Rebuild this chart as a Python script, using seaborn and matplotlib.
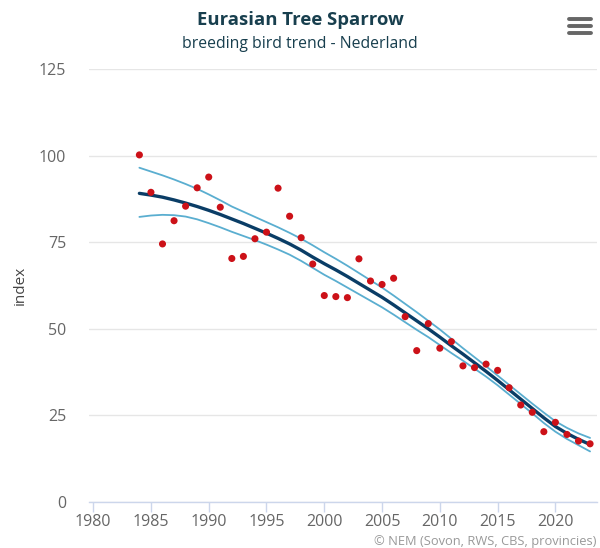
import matplotlib
matplotlib.use("Agg")
from matplotlib import pyplot as plt
from matplotlib.lines import Line2D
import pandas as pd
import seaborn as sns

years = list(range(1984, 2024))

index_values = [100.2, 89.4, 74.5, 81.2, 85.4, 90.7, 93.8, 85.1, 70.3, 70.9,
                76.0, 77.9, 90.6, 82.5, 76.3, 68.7, 59.6, 59.3, 59.0, 70.2,
                63.8, 62.8, 64.6, 53.5, 43.7, 51.5, 44.4, 46.3, 39.3, 38.8,
                39.8, 38.0, 33.0, 28.0, 25.9, 20.3, 23.0, 19.5, 17.6, 16.8]

trend = [89.1, 88.6, 88.0, 87.2, 86.3, 85.3, 84.2, 83.0, 81.7, 80.4,
         79.0, 77.6, 76.1, 74.5, 72.7, 70.7, 68.8, 67.0, 65.1, 63.1,
         61.1, 59.1, 56.9, 54.6, 52.3, 50.0, 47.6, 45.1, 42.7, 40.2,
         37.7, 35.1, 32.4, 29.7, 27.0, 24.3, 21.8, 19.8, 18.1, 16.6]

upper = [96.5, 95.4, 94.3, 93.1, 91.8, 90.4, 88.8, 87.1, 85.3, 83.8,
         82.3, 80.8, 79.3, 77.7, 76.0, 74.1, 72.1, 70.2, 68.2, 66.1,
         64.0, 61.9, 59.6, 57.2, 54.8, 52.3, 49.8, 47.1, 44.4, 41.8,
         39.2, 36.5, 33.8, 31.1, 28.4, 25.8, 23.3, 21.4, 19.8, 18.5]

lower = [82.3, 82.7, 82.9, 82.8, 82.4, 81.6, 80.5, 79.3, 78.0, 76.8,
         75.6, 74.3, 72.9, 71.4, 69.6, 67.6, 65.6, 63.8, 61.9, 60.0,
         58.1, 56.2, 54.1, 51.9, 49.7, 47.6, 45.3, 43.0, 40.8, 38.5,
         36.2, 33.7, 31.0, 28.3, 25.6, 22.8, 20.3, 18.2, 16.4, 14.6]

x_ticks = [1980, 1985, 1990, 1995, 2000, 2005, 2010, 2015, 2020]
y_ticks = [0, 25, 50, 75, 100, 125]

df = pd.DataFrame({"year": years, "index": index_values, "trend": trend,
                   "upper": upper, "lower": lower})

sns.set_theme(style="white")
plt.rcParams["font.family"] = ["Open Sans", "DejaVu Sans"]

fig = plt.figure(figsize=(6, 5.48), dpi=100)
ax = fig.add_axes([89 / 600, 46 / 548, 508 / 600, 433 / 548])

sns.lineplot(data=df, x="year", y="upper", ax=ax, color="#5aaed0",
             linewidth=1.3, zorder=3)
sns.lineplot(data=df, x="year", y="lower", ax=ax, color="#5aaed0",
             linewidth=1.3, zorder=3)
sns.lineplot(data=df, x="year", y="trend", ax=ax, color="#0a3d66",
             linewidth=2.4, zorder=4)
sns.scatterplot(data=df, x="year", y="index", ax=ax, color="#cc1118",
                s=26, edgecolor="none", zorder=5)

ax.set_xlim(1979.64, 2023.6)
ax.set_ylim(0, 125)
ax.set_xticks(x_ticks)
ax.set_yticks(y_ticks)
ax.grid(axis="y", color="#e6e6e6", linewidth=1, zorder=0)
ax.grid(axis="x", visible=False)

for side in ["top", "right", "left"]:
    ax.spines[side].set_visible(False)
ax.spines["bottom"].set_color("#ccd6eb")
ax.spines["bottom"].set_linewidth(1)
ax.spines["bottom"].set_zorder(6)

ax.tick_params(axis="x", length=7, width=1, color="#ccd6eb", pad=2,
               labelsize=11.5, labelcolor="#666666", bottom=True)
ax.tick_params(axis="y", length=0, pad=16.5, labelsize=11.5,
               labelcolor="#666666")

ax.set_xlabel("")
ax.set_ylabel("index", fontsize=11, color="#444444")
ax.yaxis.set_label_coords(-61 / 508, 0.5)

fig.text(0.5, 1 - 20 / 548, "Eurasian Tree Sparrow", ha="center",
         va="center", fontsize=13.3, fontweight="bold", color="#183f4e")
fig.text(0.5, 1 - 44 / 548, "breeding bird trend - Nederland", ha="center",
         va="center", fontsize=11.3, color="#183f4e")
fig.text(596 / 600, 7 / 548, "\u00a9 NEM (Sovon, RWS, CBS, provincies)",
         ha="right", va="center", fontsize=9.3, color="#999999")

# menu icon in the top right corner
for y_px in [19, 26, 33]:
    fig.add_artist(Line2D([569 / 600, 591 / 600],
                          [1 - y_px / 548, 1 - y_px / 548],
                          color="#666666", linewidth=2.8,
                          solid_capstyle="round"))

plt.savefig("out.png", dpi=100)
